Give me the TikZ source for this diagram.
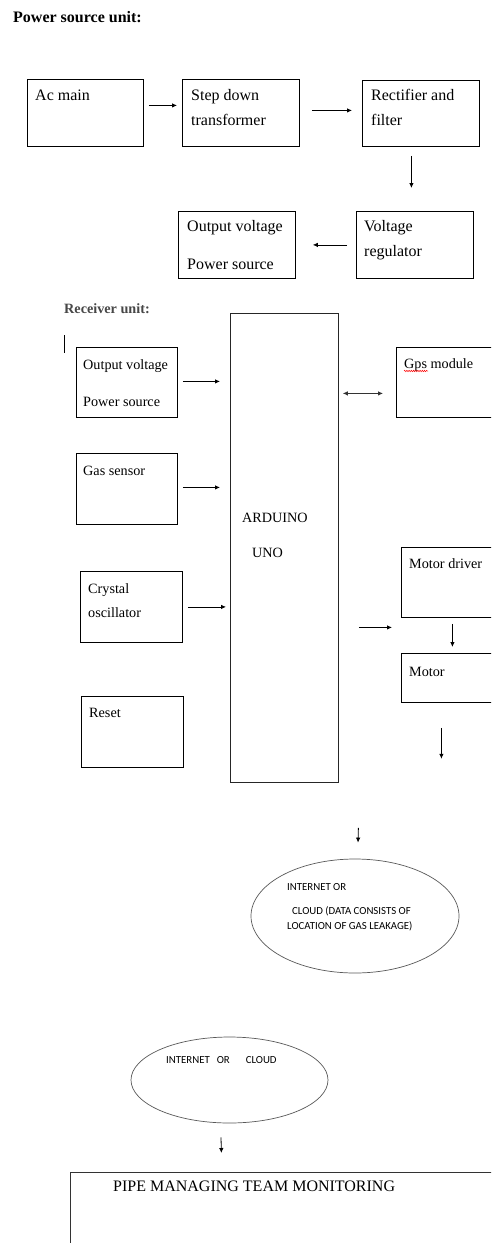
\documentclass[tikz,border=0pt]{standalone}
\usepackage{fontspec}
\setmainfont{Liberation Serif}
\newfontfamily\sansc{Carlito}
\usetikzlibrary{arrows.meta,calc,shapes.geometric,decorations.pathmorphing}
\begin{document}
\begin{tikzpicture}[x=1pt,y=-1pt,
  box/.style={draw=black, line width=0.8pt, anchor=north west, inner sep=0pt},
  gbox/.style={box, draw=black!85},
  cloudel/.style={draw=black!65, line width=0.7pt, ellipse, inner sep=0pt},
  tbig/.style={anchor=base west, inner sep=0pt, font=\fontsize{16}{19}\selectfont},
  tmid/.style={anchor=base west, inner sep=0pt, font=\fontsize{14.2}{17}\selectfont},
  tsan/.style={anchor=base west, inner sep=0pt, font=\sansc\fontsize{10.8}{13}\selectfont},
  arr/.style={-{Latex[length=5pt,width=4.5pt]}, line width=0.8pt},
  darr/.style={{Latex[length=5pt,width=4.5pt]}-{Latex[length=5pt,width=4.5pt]}, line width=0.8pt, draw=black!80},
]
\useasboundingbox (0,0) rectangle (491,1243);
\clip (0,0) rectangle (491,1243);
\fill[white] (0,0) rectangle (491,1243);

% ---------- Power source unit ----------
\node[tbig, font=\bfseries\fontsize{16}{19}\selectfont] (title1) at (13,22) {Power source unit:};

\node[box, minimum width=116pt, minimum height=67pt] (ac) at (27,79) {};
\node[box, minimum width=117pt, minimum height=67pt] (sd) at (182,79) {};
\node[box, minimum width=117pt, minimum height=66pt] (rect) at (362,80) {};
\node[box, minimum width=117pt, minimum height=67pt] (ov1) at (178,211) {};
\node[box, minimum width=117pt, minimum height=67pt] (vr) at (356,211) {};

\node[tbig] (tac) at (35,100) {Ac main};
\node[tbig] (tsd1) at (191,100) {Step down};
\node[tbig] (tsd2) at (191,125) {transformer};
\node[tbig] (trc1) at (371,100) {Rectifier and};
\node[tbig] (trc2) at (371,125) {filter};
\node[tbig] (tov1) at (187,231) {Output voltage};
\node[tbig] (tov2) at (187,269) {Power source};
\node[tbig] (tvr1) at (364,231) {Voltage};
\node[tbig] (tvr2) at (364,256) {regulator};

\draw[arr] ([shift={(5pt,7.5pt)}]ac.east) -- ([shift={(-5pt,7.5pt)}]sd.west);
\draw[arr] ([shift={(12pt,2.5pt)}]sd.east) -- ([shift={(-10pt,3pt)}]rect.west);
\draw[arr] ([shift={(-9.5pt,-9pt)}]rect.south) -- ([shift={(-3.5pt,23pt)}]vr.north);
\draw[arr] ([xshift=-9pt]vr.west) -- ([xshift=17pt]ov1.east);

% ---------- Receiver unit ----------
\node[tmid, font=\bfseries\fontsize{14.2}{17}\selectfont, text=black!72] (title2) at (64,313) {Receiver unit:};
\coordinate (cur1) at (64,335);
\coordinate (cur2) at (64,353);
\draw[line width=0.8pt] (cur1) -- (cur2);

\node[gbox, minimum width=108pt, minimum height=469pt] (ard) at (230,313) {};
\node[box, minimum width=101pt, minimum height=70pt] (ov2) at (76,347) {};
\node[box, minimum width=101pt, minimum height=71pt] (gas) at (76,453) {};
\node[box, minimum width=102pt, minimum height=71pt] (cry) at (80,571) {};
\node[box, minimum width=102pt, minimum height=71pt] (rst) at (81,696) {};
\node[box, minimum width=105pt, minimum height=70pt] (gps) at (396,347) {};
\node[box, minimum width=100pt, minimum height=70pt] (md) at (401,547) {};
\node[box, minimum width=100pt, minimum height=49pt] (mot) at (401,653) {};

\node[tmid] (tov3) at (83,369) {Output voltage};
\node[tmid] (tov4) at (83,406) {Power source};
\node[tmid] (tgps) at (404,368) {Gps module};
\draw[red, line width=0.5pt, decorate, decoration={snake, amplitude=0.7pt, segment length=2.2pt}]
  ([shift={(0pt,-3pt)}]tgps.base west) -- ([shift={(24pt,-3pt)}]tgps.base west);
\node[tmid] (tgas) at (83,475) {Gas sensor};
\node[tmid] (tard1) at (242,522) {ARDUINO};
\node[tmid] (tard2) at (252,557) {UNO};
\node[tmid] (tcry1) at (88,593) {Crystal};
\node[tmid] (tcry2) at (88,617) {oscillator};
\node[tmid] (trst) at (89,717) {Reset};
\node[tmid] (tmd) at (409,568) {Motor driver};
\node[tmid] (tmot) at (409,676) {Motor};

\draw[arr] ([shift={(5pt,1pt)}]ov2.east) -- ($(ov2.east -| ard.west)+(-10pt,1pt)$);
\draw[arr] ([shift={(5pt,1.5pt)}]gas.east) -- ($(gas.east -| ard.west)+(-10pt,1.5pt)$);
\draw[arr] ([xshift=5pt]cry.east) -- ($(cry.east -| ard.west)+(-4pt,0pt)$);
\draw[darr] ($(gps.west -| ard.east)+(4pt,-11pt)$) -- ([shift={(-13pt,-11pt)}]gps.west);
\draw[arr] ($(md.west -| ard.east)+(20pt,-45pt)$) -- ([shift={(-9pt,-45pt)}]md.west);
\draw[arr] ([shift={(1pt,-6pt)}]md.south) -- ([shift={(1pt,6pt)}]mot.north);
\draw[arr] ([shift={(-10pt,-25pt)}]mot.south) -- ([shift={(-10pt,-56pt)}]mot.south);

% ---------- Cloud ----------
\node[cloudel, minimum width=208pt, minimum height=114pt] (cl1) at (355,916) {};
\node[tsan] (tcl1) at (287,890) {INTERNET OR};
\node[tsan] (tcl2) at (292,914) {CLOUD (DATA CONSISTS OF};
\node[tsan] (tcl3) at (287,929) {LOCATION OF GAS LEAKAGE)};
\draw[arr] ([shift={(74pt,-45pt)}]ard.south) -- ([shift={(3pt,16pt)}]cl1.north);

\node[cloudel, minimum width=197pt, minimum height=86pt] (cl2) at (229.5,1080) {};
\node[tsan] (tcl4) at (166,1063) {INTERNET\hspace{7pt}OR\hspace{16pt}CLOUD};

\node[box, draw=black!80, minimum width=440pt, minimum height=100pt] (pipe) at (70,1172) {};
\node[tbig] (tpipe) at (113,1191) {PIPE MANAGING TEAM MONITORING};
\draw[arr] ([shift={(-8.5pt,-14pt)}]cl2.south) -- ([shift={(-69pt,19pt)}]pipe.north);
\end{tikzpicture}
\end{document}
